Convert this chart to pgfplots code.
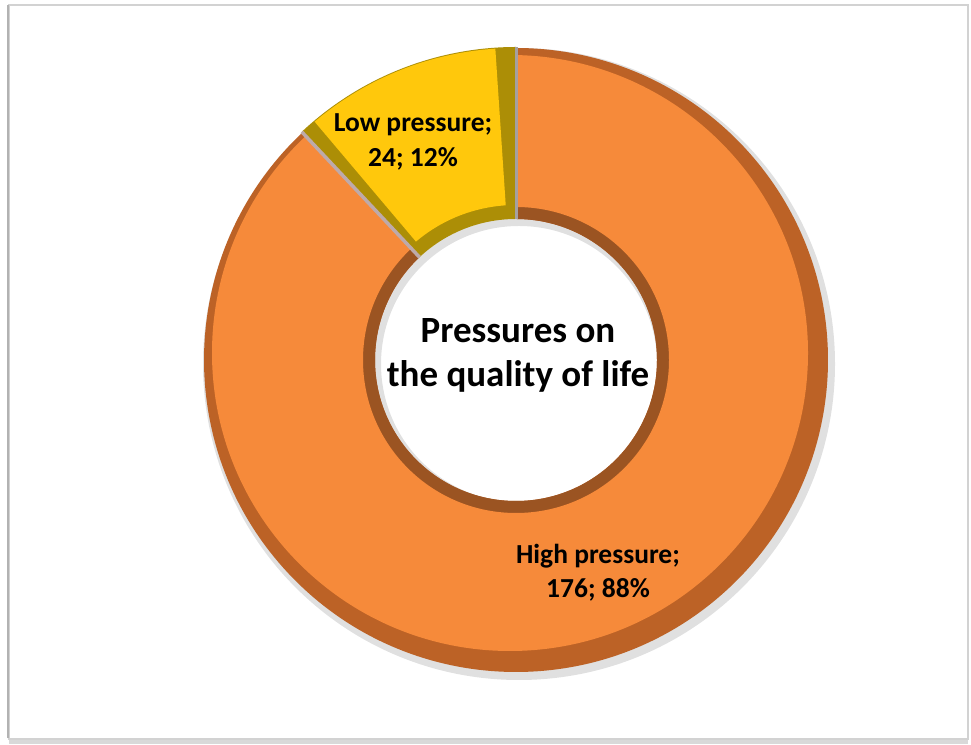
\documentclass[border=0pt]{standalone}
\usepackage{pgfplots}
\pgfplotsset{compat=1.18}
\usepackage{pgfplotstable}
\usepackage{fontspec}
\setmainfont{Carlito}

\definecolor{oface}{RGB}{246,138,58}
\definecolor{orim}{RGB}{188,98,38}
\definecolor{oinner}{RGB}{155,84,34}
\definecolor{yface}{RGB}{255,200,12}
\definecolor{yrim}{RGB}{172,142,6}
\definecolor{sepgray}{RGB}{165,160,160}
\definecolor{sepgray2}{RGB}{190,170,170}

\pgfplotstableread{
label value
High 176
Low 24
}\piedata

\newcommand{\ringpath}[5]{([shift={(#2:#4)}]#1) arc[start angle=#2,end angle=#3,radius=#4] -- ([shift={(#3:#5)}]#1) arc[start angle=#3,end angle=#2,radius=#5] -- cycle}

\begin{document}
\begin{tikzpicture}
\pgfplotstablegetelem{0}{value}\of\piedata \let\vHigh\pgfplotsretval
\pgfplotstablegetelem{1}{value}\of\piedata \let\vLow\pgfplotsretval
\pgfmathsetmacro\aSplit{90+360*\vLow/(\vHigh+\vLow)}
\pgfmathsetmacro\aEnd{450}
\pgfmathsetmacro\aYa{90+3.8}
\pgfmathsetmacro\aYb{\aSplit-3.0}
\begin{axis}[x=1pt,y=1pt,xmin=0,xmax=971,ymin=0,ymax=744,
  hide axis, clip=false, disabledatascaling, scale only axis]
\fill[white] (axis cs:0,0) rectangle (axis cs:971,744);
% frame
\fill[gray!30] (axis cs:9,0) rectangle (axis cs:968,6);
\draw[gray!35, line width=2pt] (axis cs:9,5) rectangle (axis cs:968,739);
\draw[gray!60, line width=1.2pt] (axis cs:8,6) -- (axis cs:8,739);
\coordinate (C) at (axis cs:516,384);
\coordinate (S) at (axis cs:519,380);
\coordinate (F) at (axis cs:510,391);
% shadow
\fill[black, opacity=0.12, even odd rule] (S) circle[radius=316pt] (S) circle[radius=138pt];
% orange base
\fill[orim] \ringpath{C}{\aSplit}{\aEnd}{312pt}{141pt};
\fill[oinner] \ringpath{C}{\aSplit}{\aEnd}{158pt}{141pt};
\begin{scope}
\clip (C) -- ([shift={(\aSplit:325pt)}]C) arc[start angle=\aSplit,end angle=\aEnd,radius=325pt] -- cycle;
\fill[oface, even odd rule] (F) circle[radius=298pt] (C) circle[radius=153pt];
\end{scope}
% yellow slice
\fill[yrim] \ringpath{C}{90}{\aSplit}{313pt}{141pt};
\begin{scope}
\clip (C) -- ([shift={(\aYa:325pt)}]C) arc[start angle=\aYa,end angle=\aYb,radius=325pt] -- cycle;
\fill[yface, even odd rule] (C) circle[radius=312pt] (C) circle[radius=155pt];
\end{scope}
% separators
\draw[sepgray, line width=3pt] ([shift={(90:141pt)}]C) -- ([shift={(90:313pt)}]C);
\draw[sepgray2, line width=3.5pt] ([shift={(\aSplit:141pt)}]C) -- ([shift={(\aSplit:313pt)}]C);
% texts
\node[font=\bfseries\fontsize{37}{44}\selectfont, align=center] at (axis cs:518,389) {Pressures on\\the quality of life};
\node[font=\bfseries\fontsize{27.5}{35}\selectfont, align=center] at (axis cs:413,602) {Low pressure;\\24; 12\%};
\node[font=\bfseries\fontsize{27.5}{34}\selectfont, align=center] at (axis cs:598,171) {High pressure;\\176; 88\%};
\end{axis}
\end{tikzpicture}
\end{document}
